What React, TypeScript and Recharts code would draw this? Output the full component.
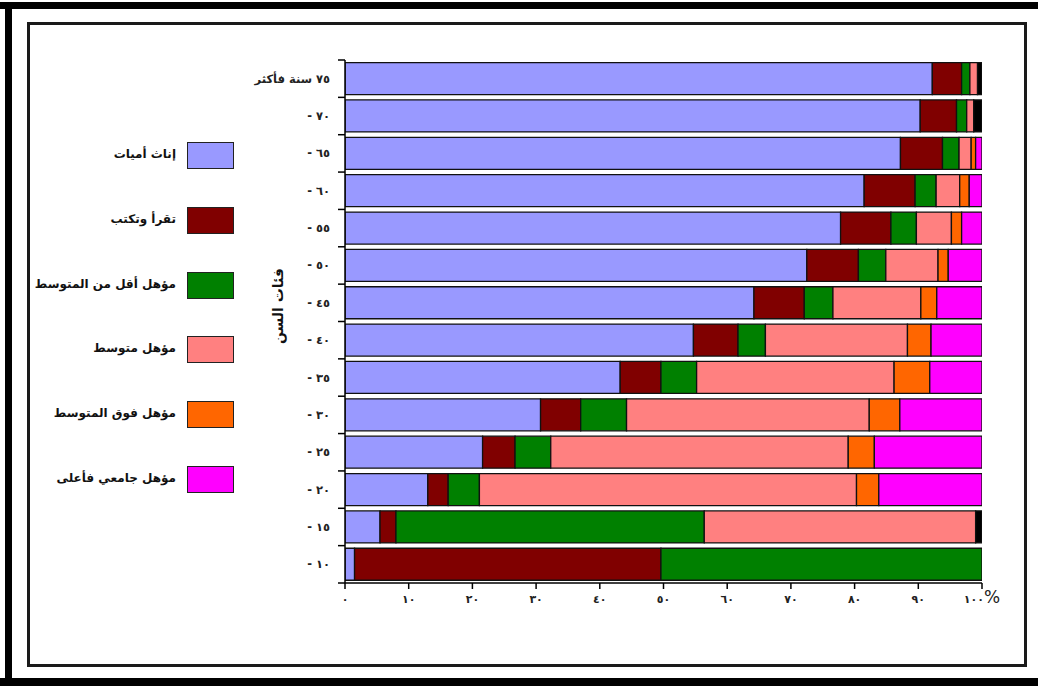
import { BarChart, Bar, XAxis, YAxis } from "recharts";

// age groups, top to bottom
const ageGroups = [
  "٧٥ سنة فأكثر",
  "- ٧٠",
  "- ٦٥",
  "- ٦٠",
  "- ٥٥",
  "- ٥٠",
  "- ٤٥",
  "- ٤٠",
  "- ٣٥",
  "- ٣٠",
  "- ٢٥",
  "- ٢٠",
  "- ١٥",
  "- ١٠",
];

// percent shares per education level
const illiterate = [92.2, 90.3, 87.2, 81.5, 77.8, 72.5, 64.2, 54.7, 43.2, 30.7, 21.6, 13.0, 5.5, 1.5];
const readWrite = [4.6, 5.7, 6.6, 8.0, 7.9, 8.1, 7.9, 7.0, 6.4, 6.3, 5.1, 3.2, 2.5, 48.1];
const belowInter = [1.3, 1.6, 2.6, 3.3, 4.0, 4.3, 4.5, 4.3, 5.6, 7.2, 5.6, 4.9, 48.4, 50.4];
const intermediate = [1.2, 1.1, 1.9, 3.7, 5.5, 8.2, 13.8, 22.3, 31.0, 38.1, 46.7, 59.2, 42.6, 0];
const aboveInter = [0, 0, 0.7, 1.5, 1.6, 1.6, 2.5, 3.7, 5.6, 4.8, 4.1, 3.5, 0, 0];
const university = [0, 0, 1.0, 2.0, 3.2, 5.3, 7.1, 8.0, 8.2, 12.9, 16.9, 16.2, 0, 0];
const notStated = [0.7, 1.3, 0, 0, 0, 0, 0, 0, 0, 0, 0, 0, 1.0, 0];

const xTicks = [0, 10, 20, 30, 40, 50, 60, 70, 80, 90, 100];

const series = [
  { key: "illiterate", name: "إناث أميات", color: "#9999FF", values: illiterate, legend: true },
  { key: "readWrite", name: "تقرأ وتكتب", color: "#800000", values: readWrite, legend: true },
  { key: "belowInter", name: "مؤهل أقل من المتوسط", color: "#008000", values: belowInter, legend: true },
  { key: "intermediate", name: "مؤهل متوسط", color: "#FF8080", values: intermediate, legend: true },
  { key: "aboveInter", name: "مؤهل فوق المتوسط", color: "#FF6600", values: aboveInter, legend: true },
  { key: "university", name: "مؤهل جامعي فأعلى", color: "#FF00FF", values: university, legend: true },
  { key: "notStated", name: "غير مبين", color: "#000000", values: notStated, legend: false },
];

const data = ageGroups.map((age, i) => {
  const row: Record<string, string | number> = { age };
  series.forEach((s) => (row[s.key] = s.values[i]));
  return row;
});

const W = 1038;
const H = 686;
const PLOT_LEFT = 345;
const PLOT_RIGHT = 982;
const PLOT_TOP = 60;
const PLOT_BOTTOM = 583;
const Y_AXIS_W = 90;
const X_AXIS_H = 30;
const BAND = (PLOT_BOTTOM - PLOT_TOP) / ageGroups.length;

const FONT = "'DejaVu Sans', sans-serif";

const toArabic = (n: number) => String(n).replace(/\d/g, (d) => "٠١٢٣٤٥٦٧٨٩"[Number(d)]);

function AgeTick(props: any) {
  const { y, payload } = props;
  const last = payload.value === ageGroups[ageGroups.length - 1];
  return (
    <g>
      <line x1={PLOT_LEFT - 7} x2={PLOT_LEFT} y1={y - BAND / 2} y2={y - BAND / 2} stroke="#000" strokeWidth={1.5} />
      {last && (
        <line x1={PLOT_LEFT - 7} x2={PLOT_LEFT} y1={y + BAND / 2} y2={y + BAND / 2} stroke="#000" strokeWidth={1.5} />
      )}
      <text
        x={PLOT_LEFT - 15}
        y={y}
        dy={4}
        textAnchor="end"
        fontFamily={FONT}
        fontWeight="bold"
        fontSize={11.5}
        fill="#222"
      >
        {payload.value}
      </text>
    </g>
  );
}

function PctTick(props: any) {
  const { x, y, payload } = props;
  const isLast = payload.value === 100;
  return (
    <text x={x} y={y + 12} textAnchor="middle" fontFamily={FONT} fontWeight="bold" fontSize={11} fill="#222">
      {toArabic(payload.value)}
      {isLast && (
        <tspan fontSize={17} fontWeight="normal">
          %
        </tspan>
      )}
    </text>
  );
}

export default function App() {
  return (
    <div style={{ position: "absolute", left: 0, top: 0, width: W, height: H, background: "#fff", overflow: "hidden" }}>
      {/* outer black border */}
      <div style={{ position: "absolute", left: 0, top: 2, width: W, height: 7, background: "#000" }} />
      <div style={{ position: "absolute", left: 5, top: 2, width: 7, height: H, background: "#000" }} />
      <div style={{ position: "absolute", left: 0, top: 678, width: W, height: 8, background: "#000" }} />
      {/* inner frame */}
      <div
        style={{
          position: "absolute",
          left: 27,
          top: 22,
          width: 1000 - 6,
          height: 645 - 6,
          border: "3px solid #1a1a1a",
        }}
      />

      {/* legend */}
      {series
        .filter((s) => s.legend)
        .map((s, i) => (
          <div key={s.key} style={{ position: "absolute", left: 30, top: 142 + i * 64.8, width: 204, height: 27 }}>
            <div
              style={{
                position: "absolute",
                right: 0,
                top: 0,
                width: 45,
                height: 25,
                background: s.color,
                border: "1px solid #222",
              }}
            />
            <div
              style={{
                position: "absolute",
                right: 58,
                top: 5,
                whiteSpace: "nowrap",
                direction: "rtl",
                fontFamily: FONT,
                fontWeight: "bold",
                fontSize: 12,
                color: "#111",
              }}
            >
              {s.name}
            </div>
          </div>
        ))}

      <div style={{ position: "absolute", left: 0, top: 0 }}>
        <BarChart
          width={W}
          height={H}
          data={data}
          layout="vertical"
          barCategoryGap="7%"
          margin={{
            top: PLOT_TOP,
            right: W - PLOT_RIGHT,
            bottom: H - PLOT_BOTTOM - X_AXIS_H,
            left: PLOT_LEFT - Y_AXIS_W,
          }}
        >
          <XAxis
            type="number"
            domain={[0, 100]}
            ticks={xTicks}
            allowDataOverflow
            height={X_AXIS_H}
            axisLine={{ stroke: "#000", strokeWidth: 1.5 }}
            tickLine={{ stroke: "#000", strokeWidth: 1.5 }}
            tickSize={6}
            tick={<PctTick />}
            interval={0}
          />
          <YAxis
            type="category"
            dataKey="age"
            width={Y_AXIS_W}
            axisLine={{ stroke: "#000", strokeWidth: 1.5 }}
            tickLine={false}
            tick={<AgeTick />}
            interval={0}
            label={() => (
              <text
                transform={`translate(${PLOT_LEFT - 62}, ${PLOT_TOP + 246}) rotate(-90)`}
                textAnchor="middle"
                fontFamily={FONT}
                fontWeight="bold"
                fontSize={14}
                fill="#111"
              >
                فئات السن
              </text>
            )}
          />
          {series.map((s) => (
            <Bar
              key={s.key}
              dataKey={s.key}
              name={s.name}
              stackId="a"
              fill={s.color}
              stroke="#111"
              strokeWidth={1.3}
              isAnimationActive={false}
            />
          ))}
        </BarChart>
      </div>
    </div>
  );
}
